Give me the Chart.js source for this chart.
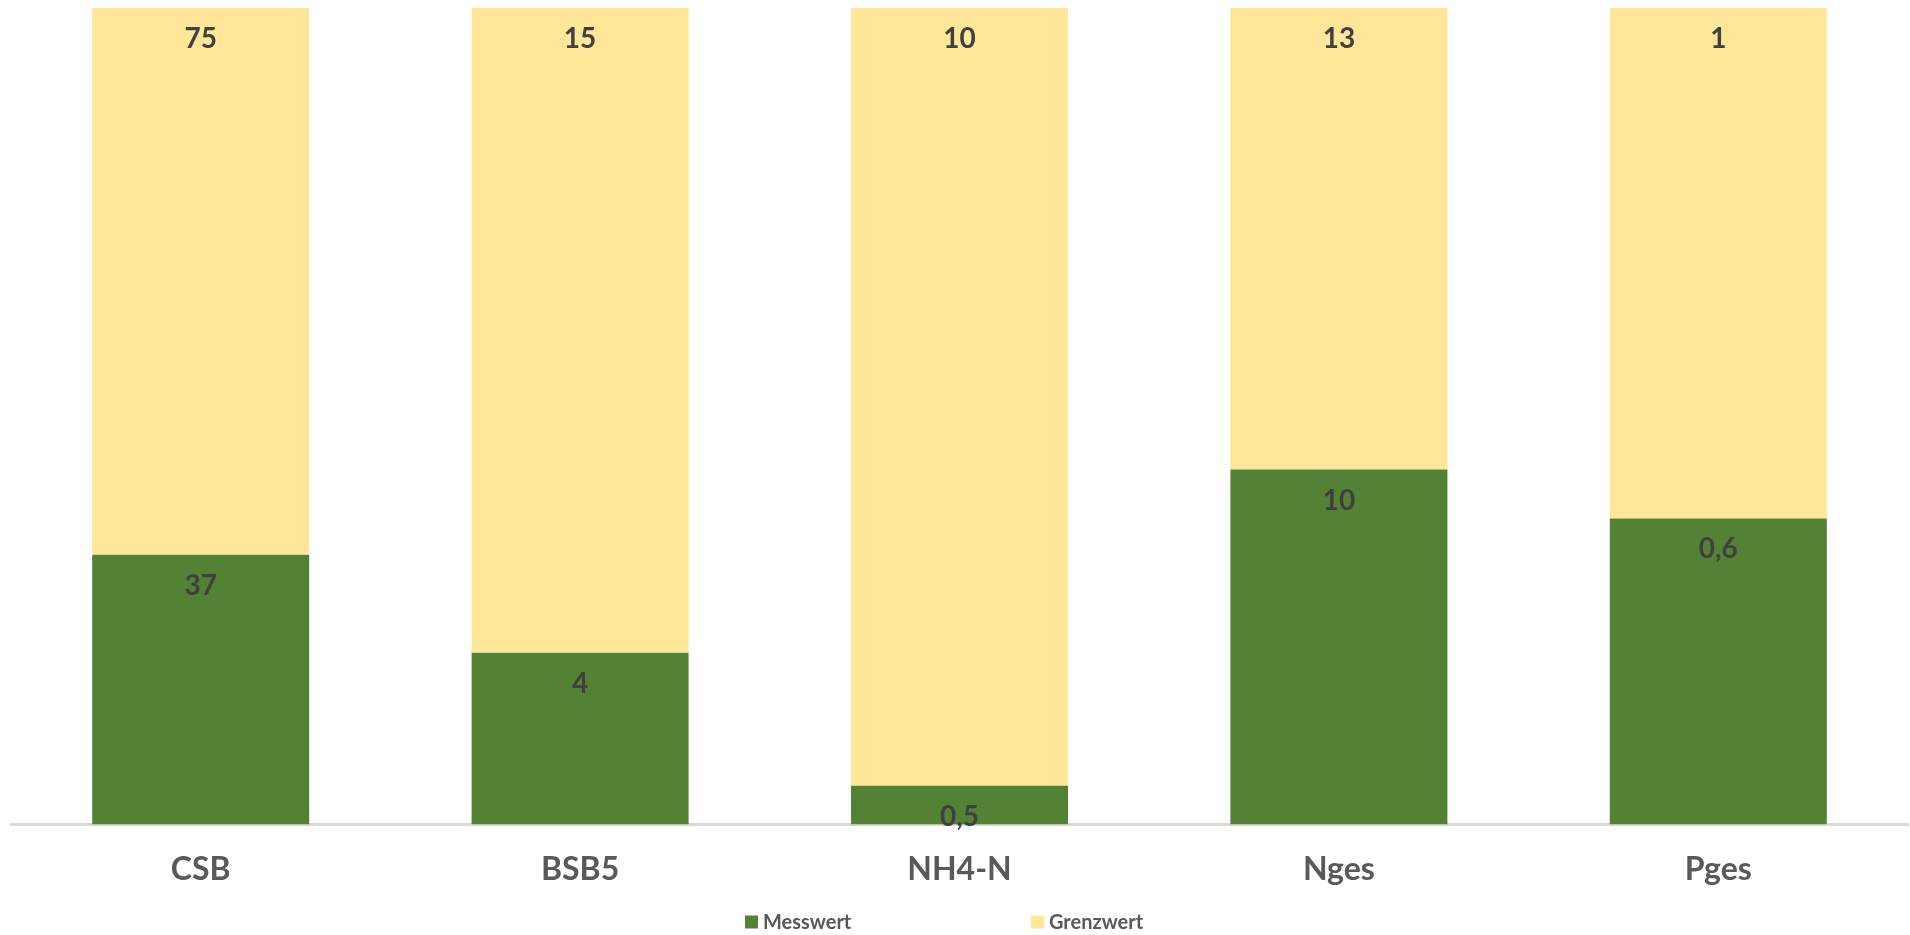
<!DOCTYPE html>
<html>
<head>
<meta charset="utf-8">
<script src="https://cdn.jsdelivr.net/npm/chart.js@4.4.1/dist/chart.umd.min.js"></script>
<style>
  html, body { margin: 0; padding: 0; background: #fff; }
  #wrap { width: 1910px; height: 935px; }
</style>
</head>
<body>
<div id="wrap"><canvas id="chart"></canvas></div>
<script>
// Werte (100% gestapelt: Messwert + Grenzwert)
const kategorien = ['CSB', 'BSB5', 'NH4-N', 'Nges', 'Pges'];
const messwert = [37, 4, 0.5, 10, 0.6];
const grenzwert = [75, 15, 10, 13, 1];

const farbeMess = '#548235';
const farbeGrenz = '#FFE699';
const schrift = 'Lato, "Open Sans", sans-serif';

// Anteile für die 100%-Stapelung
const summe = messwert.map((m, i) => m + grenzwert[i]);
const anteilMess = messwert.map((m, i) => m / summe[i] * 100);
const anteilGrenz = grenzwert.map((g, i) => g / summe[i] * 100);

function fmt(v) {
    return String(v).replace('.', ',');
}

// Datenbeschriftungen innen oben
const labelPlugin = {
    id: 'werteLabels',
    afterDatasetsDraw(chart) {
        const ctx = chart.ctx;
        ctx.save();
        ctx.font = 'bold 28px ' + schrift;
        ctx.fillStyle = '#404040';
        ctx.textAlign = 'center';
        ctx.textBaseline = 'middle';
        chart.data.datasets.forEach((ds, di) => {
            const meta = chart.getDatasetMeta(di);
            meta.data.forEach((bar, i) => {
                ctx.fillText(fmt(ds.rawValues[i]), bar.x, bar.y + 31);
            });
        });
        ctx.restore();
    }
};

// Legende unten
const legendePlugin = {
    id: 'legendeUnten',
    afterDraw(chart) {
        const ctx = chart.ctx;
        const y = 922;
        const xs = [745, 1031];
        ctx.save();
        ctx.font = 'bold 20px ' + schrift;
        ctx.textBaseline = 'middle';
        chart.data.datasets.forEach((ds, i) => {
            ctx.fillStyle = ds.backgroundColor;
            ctx.fillRect(xs[i], y - 6.5, 13, 13);
            ctx.fillStyle = '#595959';
            ctx.fillText(ds.label, xs[i] + 18, y + 1);
        });
        ctx.restore();
    }
};

new Chart(document.getElementById('chart'), {
    type: 'bar',
    data: {
        labels: kategorien,
        datasets: [
            {
                label: 'Messwert',
                data: anteilMess,
                rawValues: messwert,
                backgroundColor: farbeMess
            },
            {
                label: 'Grenzwert',
                data: anteilGrenz,
                rawValues: grenzwert,
                backgroundColor: farbeGrenz
            }
        ]
    },
    options: {
        responsive: true,
        maintainAspectRatio: false,
        animation: false,
        datasets: { bar: { categoryPercentage: 1, barPercentage: 0.572 } },
        layout: { padding: { left: 11, right: 2, top: 8, bottom: 20 } },
        plugins: {
            legend: { display: false },
            tooltip: { enabled: false }
        },
        scales: {
            x: {
                stacked: true,
                grid: { display: false, drawTicks: false },
                border: { color: '#d9d9d9', width: 3 },
                ticks: {
                    padding: 26,
                    color: '#595959',
                    font: { family: schrift, size: 32, weight: 'bold' }
                }
            },
            y: {
                stacked: true,
                display: false,
                min: 0,
                max: 100
            }
        }
    },
    plugins: [labelPlugin, legendePlugin]
});
</script>
</body>
</html>
